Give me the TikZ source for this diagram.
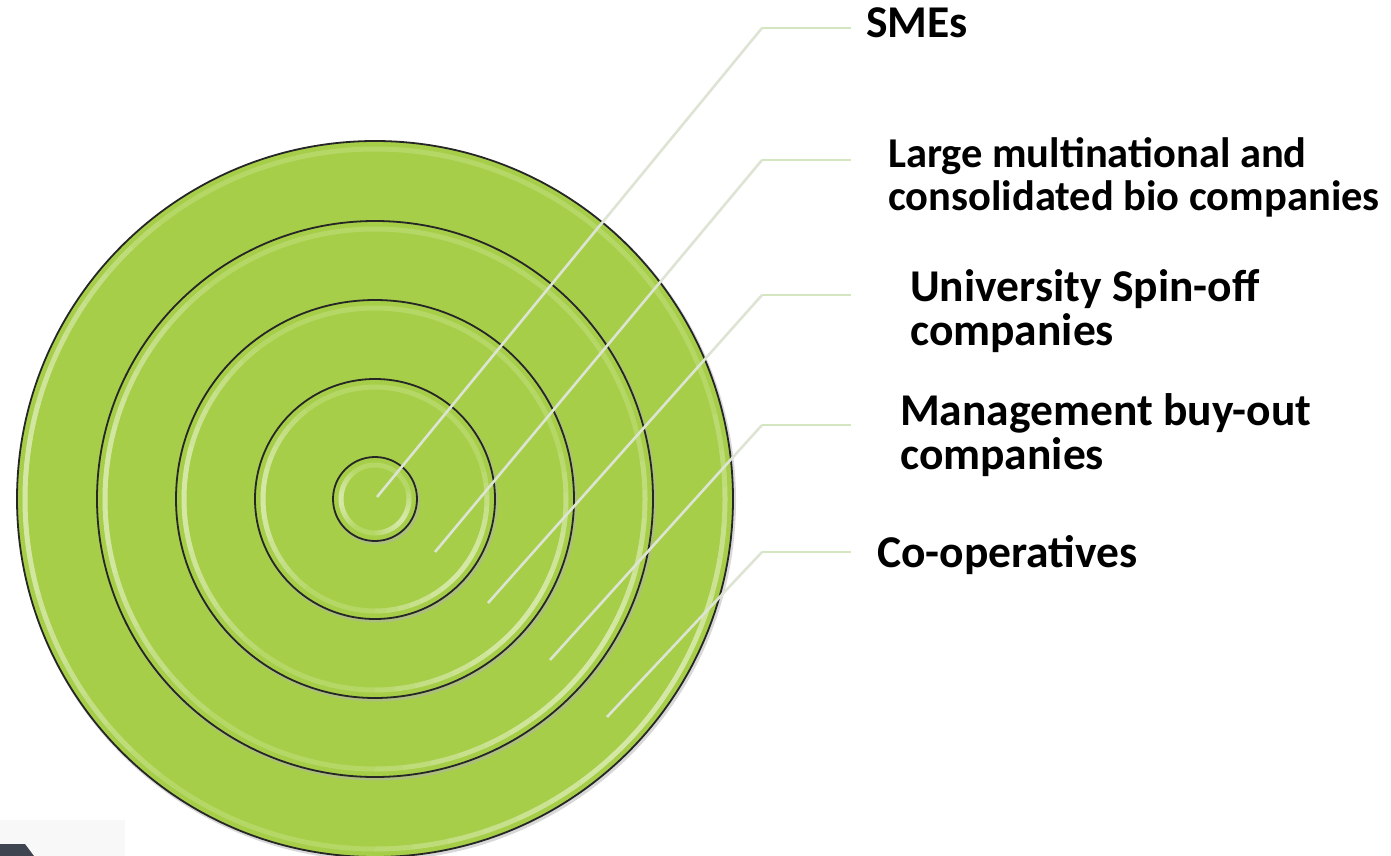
\documentclass[tikz,border=0pt]{standalone}
\usepackage{fontspec}
\setmainfont{Carlito}
\usetikzlibrary{calc}
\definecolor{ringgreen}{HTML}{A6CE48}
\definecolor{leaderd}{HTML}{DDE4D3}
\definecolor{leaderh}{HTML}{D4E6C0}
\definecolor{slate}{HTML}{3E4450}
\definecolor{faint}{HTML}{F8F8F8}
\definecolor{gloss}{HTML}{F4FBE0}
\begin{document}
\begin{tikzpicture}[x=1pt,y=-1pt,
  ring/.style={circle,draw=black!85,line width=1.8pt,fill=ringgreen,inner sep=0pt},
  glossarc/.style={gloss,opacity=.09,line width=5pt},
  leader/.style={draw=leaderd,line width=2.6pt},
  leaderhz/.style={draw=leaderh,line width=2.6pt},
  lbl/.style={font=\bfseries\fontsize{45.5}{44}\selectfont,anchor=base west,inner sep=0pt,align=left,text=black},
  lblsmall/.style={lbl,font=\bfseries\fontsize{42.5}{43}\selectfont}]
\useasboundingbox (0,0) rectangle (1391,856);
% corner decoration
\fill[faint] (0,820) rectangle (125,856);
\fill[slate] (0,844) -- (25,844) -- (34,856) -- (0,856) -- cycle;
\coordinate (ctr) at (375,499);
% rings
\foreach \r/\n in {358/c5,278/c4,199/c3,120/c2,42/c1}{
  \fill[black!30,opacity=.5] ($(ctr)+(1.5,2)$) circle (\r pt+1.5pt);
  \node[ring,minimum size=2*\r pt] (\n) at (ctr) {};
  \pgfmathsetmacro{\hr}{\r-8}
  \draw[gloss,opacity=.2,line width=5pt] (ctr) circle (\hr pt);
  \foreach \k in {0,...,7}{
    \pgfmathsetmacro{\hw}{52-6*\k}
    \draw[glossarc] ($(ctr)+(180-\hw:\hr pt)$) arc[start angle=180-\hw,end angle=180+\hw,radius=\hr pt];
    \draw[glossarc] ($(ctr)+(-38-\hw:\hr pt)$) arc[start angle=-38-\hw,end angle=-38+\hw,radius=\hr pt];
  }
}
% leader points
\coordinate (p1) at (377,497);
\coordinate (p2) at (435,552);
\coordinate (p3) at (488,603);
\coordinate (p4) at (550,660);
\coordinate (p5) at (607,717);
\coordinate (e1) at (762,28);
\coordinate (e2) at (762,160);
\coordinate (e3) at (762,295);
\coordinate (e4) at (762,425);
\coordinate (e5) at (762,552);
\coordinate (h1) at (851,28);
\coordinate (h2) at (851,160);
\coordinate (h3) at (851,295);
\coordinate (h4) at (851,425);
\coordinate (h5) at (851,552);
\foreach \i in {1,...,5}{
  \draw[leader] (p\i) -- (e\i);
  \draw[leaderhz] (e\i) -- (h\i);
}
% labels (anchor = baseline of the last line)
\node[lbl] (l1) at (866,38) {SMEs};
\node[lblsmall] (l2) at (888,210) {Large multinational and\\consolidated bio companies};
\node[lbl] (l3) at (910,345) {University Spin-off\\companies};
\node[lbl] (l4) at (900,469) {Management buy-out\\companies};
\node[lbl] (l5) at (877,567) {Co-operatives};
\end{tikzpicture}
\end{document}
